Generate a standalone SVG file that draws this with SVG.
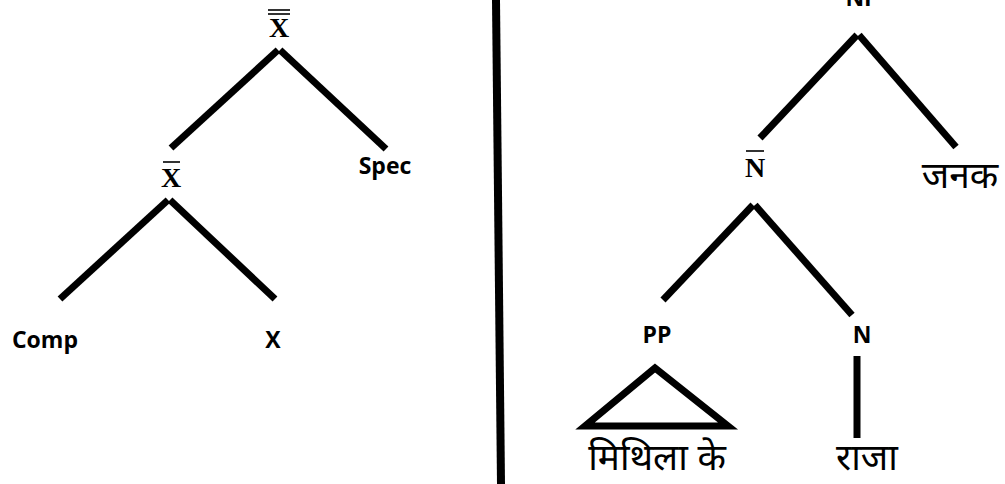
<svg xmlns="http://www.w3.org/2000/svg" width="1005" height="484" viewBox="0 0 1005 484">
<style>
.lbl{font-family:"Open Sans","Liberation Sans",sans-serif;font-weight:bold;font-size:23px;fill:#000}
.bar{font-family:"Liberation Serif",serif;font-weight:bold;font-size:28px;fill:#000}
.dev{font-family:"Noto Sans Devanagari","Noto Sans","Lohit Devanagari",sans-serif;font-size:37px;fill:#000}
.e{stroke:#000;stroke-width:7;fill:none}
.ov{stroke:#333;stroke-width:2}
</style>
<rect width="1005" height="484" fill="#fff"/>
<g id="edges">
<line class="e" x1="278" y1="50" x2="171" y2="148"/>
<line class="e" x1="280" y1="50" x2="386" y2="149"/>
<line class="e" x1="168" y1="200" x2="60" y2="299"/>
<line class="e" x1="170" y1="200" x2="275" y2="299"/>
<line class="e" x1="857" y1="35" x2="760" y2="138"/>
<line class="e" x1="859" y1="35" x2="956" y2="147"/>
<line class="e" x1="753" y1="205" x2="663" y2="300"/>
<line class="e" x1="755" y1="205" x2="852" y2="315"/>
<line class="e" x1="857" y1="356" x2="857" y2="438"/>
<polygon class="e" points="655,368 585,426 728,426" stroke-linejoin="miter"/>
</g>
<g id="divider"><line x1="496" y1="0" x2="501" y2="484" stroke="#000" stroke-width="8"/></g>
<g id="n-xbarbar">
<line class="ov" x1="268" y1="10" x2="290" y2="10"/>
<line class="ov" x1="268" y1="14" x2="290" y2="14"/>
<text class="bar" x="279" y="37" text-anchor="middle">X</text>
</g>
<g id="n-xbar">
<line class="ov" x1="163" y1="162" x2="180" y2="162"/>
<text class="bar" x="171" y="187" text-anchor="middle" font-size="25">X</text>
</g>
<g id="n-spec"><text class="lbl" x="385" y="174" text-anchor="middle">Spec</text></g>
<g id="n-comp"><text class="lbl" x="45" y="348" text-anchor="middle">Comp</text></g>
<g id="n-x"><text class="lbl" x="273" y="348" text-anchor="middle">X</text></g>
<g id="n-np"><text class="lbl" x="862" y="6" text-anchor="middle">NP</text></g>
<g id="n-nbar">
<line class="ov" x1="746" y1="151" x2="764" y2="151"/>
<text class="bar" x="755" y="177" text-anchor="middle" font-size="26">N</text>
</g>
<g id="n-janak"><text class="dev" x="960" y="188" text-anchor="middle">जनक</text></g>
<g id="n-pp"><text class="lbl" x="657" y="343" text-anchor="middle">PP</text></g>
<g id="n-n"><text class="lbl" x="862" y="343" text-anchor="middle">N</text></g>
<g id="n-mithila"><text class="dev" x="657" y="470" text-anchor="middle">मिथिला के</text></g>
<g id="n-raja"><text class="dev" x="867" y="470" text-anchor="middle">राजा</text></g>
</svg>
